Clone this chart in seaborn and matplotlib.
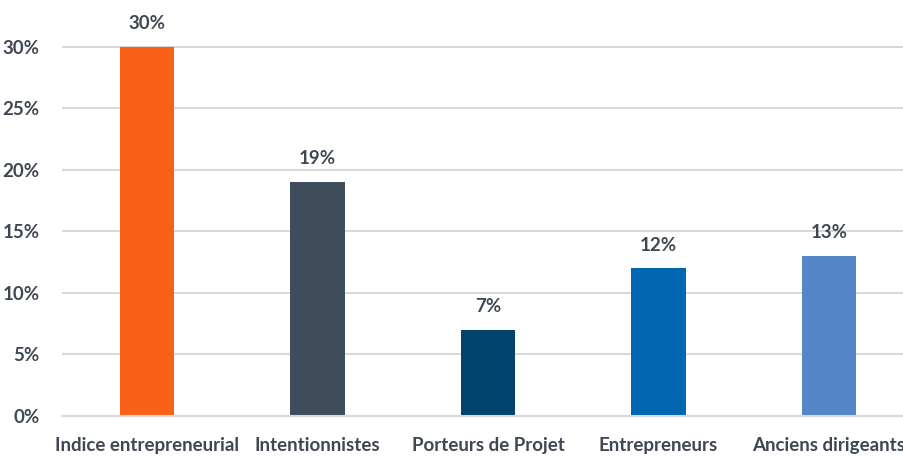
import matplotlib
matplotlib.use("Agg")
import matplotlib.pyplot as plt
import seaborn as sns
import pandas as pd

categories = ["Indice entrepreneurial", "Intentionnistes", "Porteurs de Projet", "Entrepreneurs", "Anciens dirigeants"]
values = [30, 19, 7, 12, 13]
colors = ["#F86117", "#3F4C5C", "#00446D", "#0066B1", "#5587C8"]
yticks = [0, 5, 10, 15, 20, 25, 30]

sns.set_theme(style="white")
plt.rcParams['font.family'] = ['Lato', 'DejaVu Sans']
text_color = "#3E4753"

df = pd.DataFrame({"cat": categories, "val": values})
fig = plt.figure(figsize=(9.04, 4.57), dpi=100)
ax = fig.add_axes([62/904, 1 - 416/457, 852/904, 406/457])
sns.barplot(data=df, x="cat", y="val", hue="cat", palette=colors, width=0.32,
            legend=False, ax=ax, saturation=1, linewidth=0)
ax.set_xlim(-0.5, 4.5)
ax.set_ylim(0, 33)
ax.set_yticks(yticks)
ax.set_yticklabels([f"{t}%" for t in yticks])
ax.yaxis.grid(True, color="#D9D9D9", linewidth=1.5)
ax.set_axisbelow(True)
for s in ["top", "right", "left"]:
    ax.spines[s].set_visible(False)
ax.spines["bottom"].set_color("#D9D9D9")
ax.spines["bottom"].set_linewidth(1.5)
ax.set_xlabel("")
ax.set_ylabel("")
ax.tick_params(axis="both", length=0, labelsize=13.5, colors=text_color)
ax.tick_params(axis="y", pad=16)
ax.tick_params(axis="x", pad=15)
for lbl in ax.get_xticklabels() + ax.get_yticklabels():
    lbl.set_fontweight("bold")
for i, v in enumerate(values):
    ax.text(i, v + 1.2, f"{v}%", ha="center", va="bottom", fontsize=13.5,
            fontweight="bold", color=text_color, clip_on=False)
fig.savefig("out.png", dpi=100)
